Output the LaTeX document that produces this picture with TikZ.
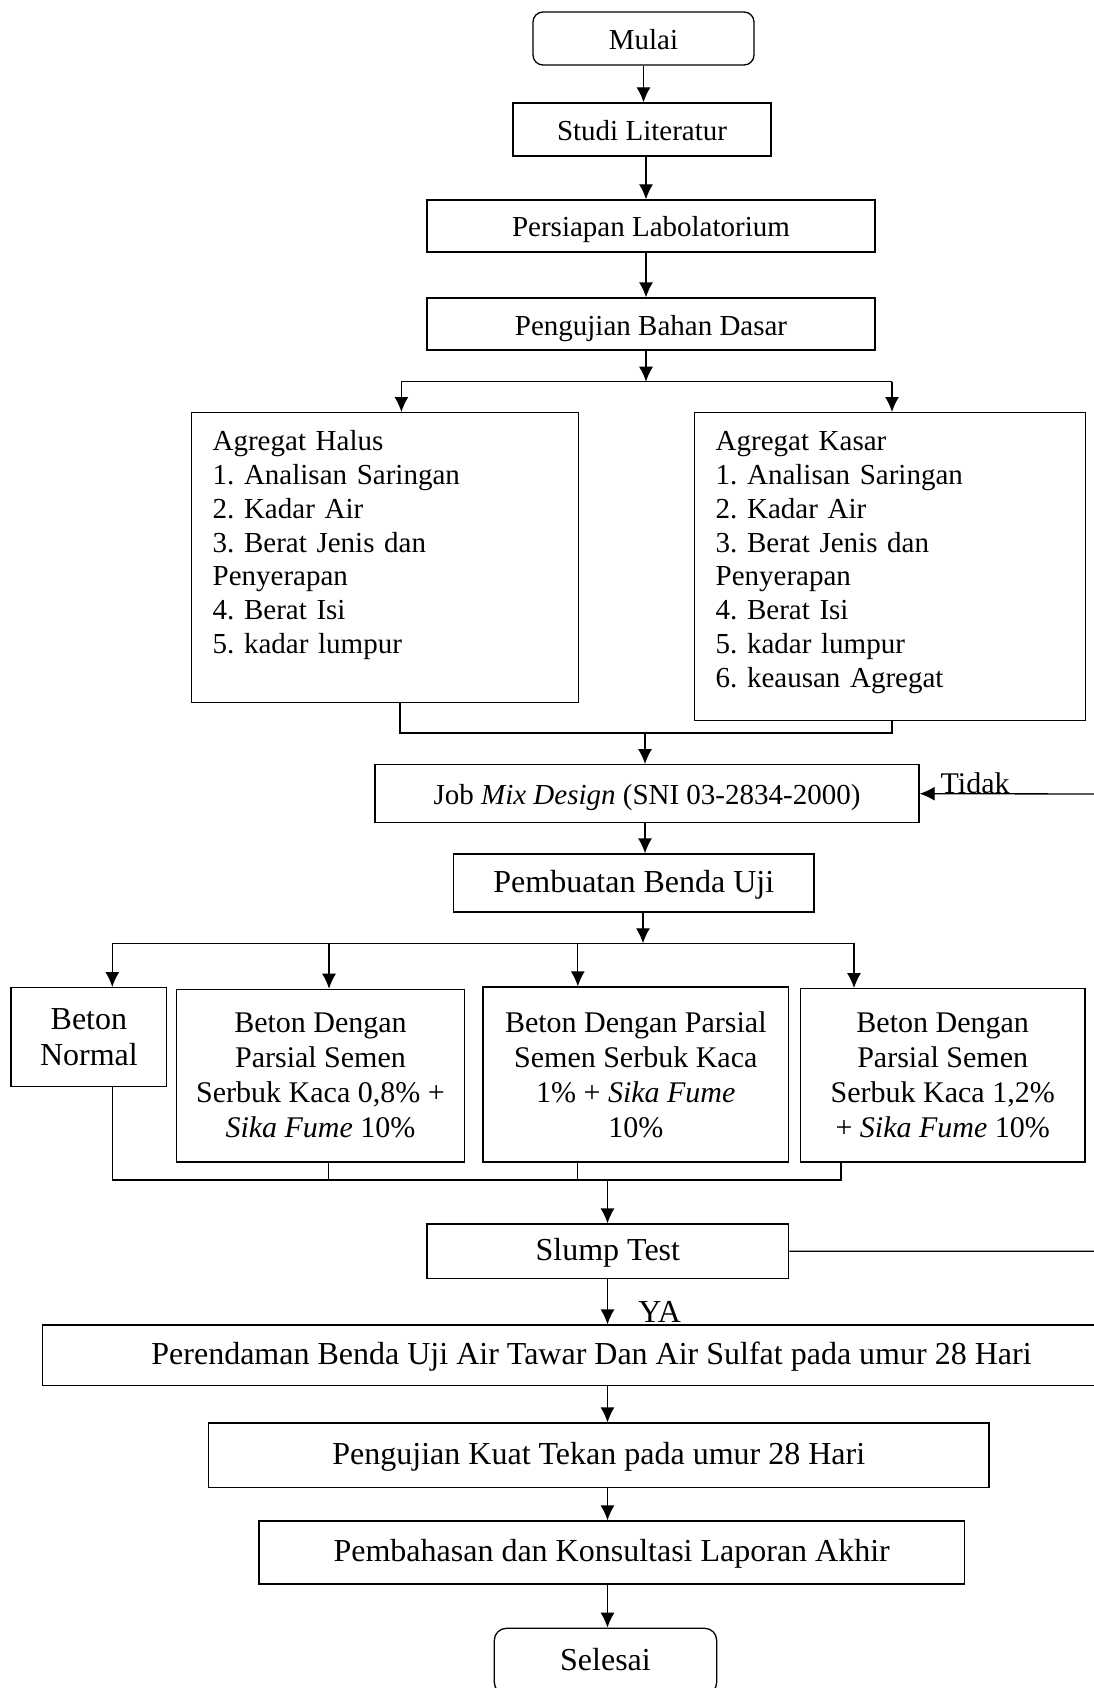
\documentclass[tikz,border=0pt]{standalone}
\usepackage{fontspec}
\setmainfont{Liberation Serif}
\usetikzlibrary{arrows.meta}
\frenchspacing

\begin{document}
\begin{tikzpicture}[x=1pt,y=-1pt,line width=1.3pt,
        >={Latex[length=15pt,width=14pt]},
        main node/.style={rectangle,draw,inner sep=0pt,text height=24pt,text depth=2pt,
            font=\fontsize{29}{34}\selectfont},
        big node/.style={main node,text height=22pt,text depth=4pt,
            font=\fontsize{32}{37}\selectfont},
        end node/.style={big node,rounded corners=12pt},
        list node/.style={rectangle,draw,anchor=north west,align=left,inner xsep=21.5pt,
            inner ysep=18pt,text height=20pt,font=\fontsize{29}{33.8}\selectfont},
        beton node/.style={rectangle,draw,inner sep=0pt,align=center,
            font=\fontsize{30}{35}\selectfont},
        label node/.style={inner sep=0pt,anchor=base west}]

        \useasboundingbox (0,0) rectangle (1094,1688);

        \node[main node,rounded corners=10pt,minimum width=221pt,minimum height=53pt] (mulai) at (643.5,38.5) {Mulai};
        \node[main node,minimum width=258pt,minimum height=53pt] (studi) at (642,129.5) {Studi Literatur};
        \node[main node,minimum width=448pt,minimum height=52pt] (persiapan) at (651,226) {Persiapan Labolatorium};
        \node[main node,minimum width=448pt,minimum height=52pt] (bahan) at (651,324) {Pengujian Bahan Dasar};

        \node[list node,text width=344.5pt,text depth=234pt] (halus) at (190.5,412)
          {Agregat Halus\\1. Analisan Saringan\\2. Kadar Air\\3. Berat Jenis dan\\Penyerapan\\4. Berat Isi\\5. kadar lumpur};
        \node[list node,text width=348.5pt,text depth=252pt] (kasar) at (693.5,412)
          {Agregat Kasar\\1. Analisan Saringan\\2. Kadar Air\\3. Berat Jenis dan\\Penyerapan\\4. Berat Isi\\5. kadar lumpur\\6. keausan Agregat};

        \node[main node,minimum width=544pt,minimum height=58pt] (jobmix) at (647,793.7) {Job \textit{Mix Design} (SNI 03-2834-2000)};
        \node[big node,minimum width=360.4pt,minimum height=58pt] (pembuatan) at (633.8,883) {Pembuatan Benda Uji};

        \node[beton node,font=\fontsize{32}{36.7}\selectfont,minimum width=155.7pt,minimum height=99pt] (normal) at (88.9,1037.2) {Beton\\Normal};
        \node[beton node,minimum width=287.6pt,minimum height=172.7pt] (kaca1) at (320.5,1075.7)
          {Beton Dengan\\Parsial Semen\\Serbuk Kaca 0,8\% +\\\textit{Sika Fume} 10\%};
        \node[beton node,minimum width=305.6pt,minimum height=175pt] (kaca2) at (635.8,1074.5)
          {Beton Dengan Parsial\\Semen Serbuk Kaca\\1\% + \textit{Sika Fume}\\10\%};
        \node[beton node,minimum width=284.6pt,minimum height=173.3pt] (kaca3) at (942.7,1075.4)
          {Beton Dengan\\Parsial Semen\\Serbuk Kaca 1,2\%\\+ \textit{Sika Fume} 10\%};

        \node[big node,minimum width=361.6pt,minimum height=54.3pt] (slump) at (607.8,1251.2) {Slump Test};
        \node[big node,minimum width=1098pt,minimum height=60.7pt] (perendaman) at (591.5,1355.4) {Perendaman Benda Uji Air Tawar Dan Air Sulfat pada umur 28 Hari};
        \node[big node,minimum width=780.1pt,minimum height=64.7pt] (kuat) at (598.8,1455.4) {Pengujian Kuat Tekan pada umur 28 Hari};
        \node[big node,minimum width=705.4pt,minimum height=63pt] (bahas) at (611.7,1552.5) {Pembahasan dan Konsultasi Laporan Akhir};
        \node[end node,minimum width=222.4pt,minimum height=66pt] (selesai) at (605.5,1661.3) {Selesai};

        \node[label node,font=\fontsize{30}{34}\selectfont] (tidak) at (940,793.5) {Tidak};
        \node[label node,font=\fontsize{32}{37}\selectfont] (ya) at (637.7,1322.7) {YA};

        \coordinate (c1) at (646,381.7);
        \coordinate (c1l) at (401.4,381.7);
        \coordinate (c1r) at (892,381.7);
        \coordinate (c2) at (645,733);
        \coordinate (c2l) at (400,733);
        \coordinate (c2r) at (892,733);
        \coordinate (c3) at (643,943.3);
        \coordinate (a1) at (112.3,943.3);
        \coordinate (a2) at (329,943.3);
        \coordinate (a3) at (577.8,943.3);
        \coordinate (a4) at (854,943.3);
        \coordinate (b1) at (112.3,1180);
        \coordinate (b2) at (328.8,1180);
        \coordinate (b3) at (577.8,1180);
        \coordinate (b4) at (840.9,1180);
        \coordinate (c4) at (607.5,1180);
        \coordinate (balik) at (1120,794);

        \path[->]
          (mulai) edge (mulai |- studi.north)
          (studi.south -| c1) edge (c1 |- persiapan.north)
          (persiapan.south -| c1) edge (c1 |- bahan.north)
          (bahan.south -| c1) edge (c1);
        \draw (c1l) -- (c1r);
        \path[->]
          (c1l) edge (c1l |- halus.north)
          (c1r) edge (c1r |- kasar.north);
        \draw (c2l |- halus.south) -- (c2l) -- (c2r) -- (c2r |- kasar.south);
        \path[->]
          (c2) edge (c2 |- jobmix.north)
          (jobmix.south -| c2) edge (c2 |- pembuatan.north)
          (pembuatan.south -| c3) edge (c3);
        \draw (a1) -- (a4);
        \path[->]
          (a1) edge (a1 |- normal.north)
          (a2) edge (a2 |- kaca1.north)
          (a3) edge (a3 |- kaca2.north)
          (a4) edge (a4 |- kaca3.north);
        \draw (b1 |- normal.south) -- (b1) -- (b4) -- (b4 |- kaca3.south);
        \draw (b2 |- kaca1.south) -- (b2);
        \draw (b3 |- kaca2.south) -- (b3);
        \path[->]
          (c4) edge (c4 |- slump.north)
          (slump.south -| c4) edge (c4 |- perendaman.north)
          (perendaman.south -| c4) edge (c4 |- kuat.north)
          (kuat.south -| c4) edge (c4 |- bahas.north)
          (bahas.south -| c4) edge (c4 |- selesai.north);
        \draw[->] (slump.east) -| (balik) -- (jobmix.east);
      \end{tikzpicture}
\end{document}
